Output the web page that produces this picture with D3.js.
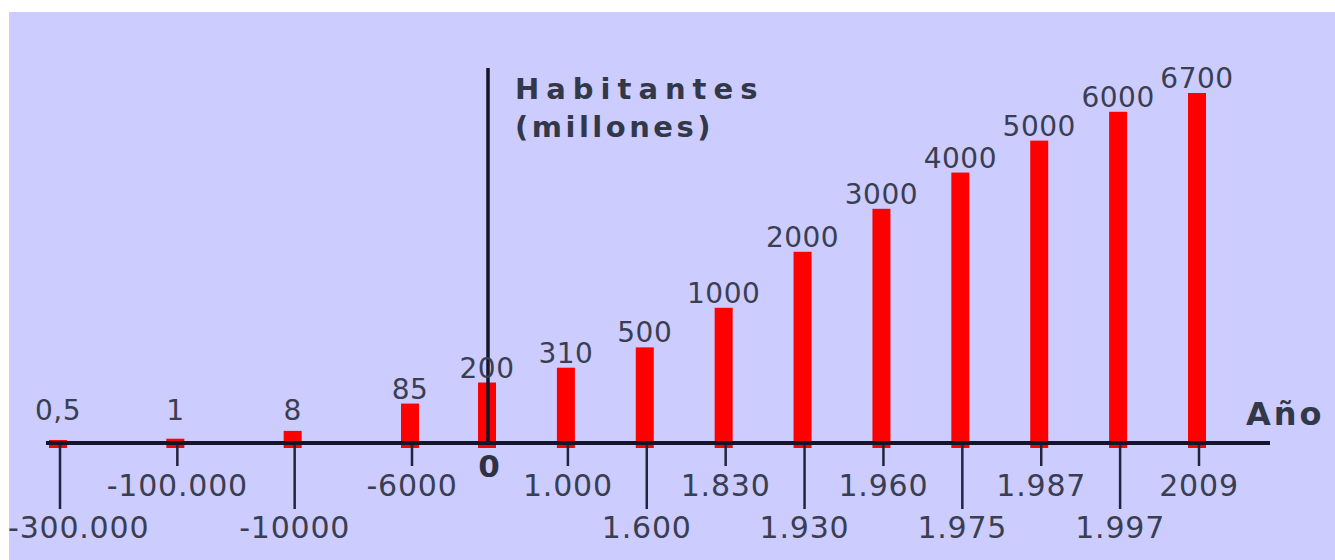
<!DOCTYPE html>
<html>
<head>
<meta charset="utf-8">
<script src="https://cdn.jsdelivr.net/npm/d3@7"></script>
<style>
  html, body { margin: 0; padding: 0; background: #ffffff; }
  svg { display: block; }
</style>
</head>
<body>
<svg id="chart" width="1335" height="560"></svg>
<script>
// ---- data ----
const yearLabels = ["-300.000", "-100.000", "-10000", "-6000", "0", "1.000", "1.600", "1.830", "1.930", "1.960", "1.975", "1.987", "1.997", "2009"];
const years = [-300000, -100000, -10000, -6000, 0, 1000, 1600, 1830, 1930, 1960, 1975, 1987, 1997, 2009];
const population = [0.5, 1, 8, 85, 200, 310, 500, 1000, 2000, 3000, 4000, 5000, 6000, 6700];
const populationLabels = ["0,5", "1", "8", "85", "200", "310", "500", "1000", "2000", "3000", "4000", "5000", "6000", "6700"];
const yTitle = ["Habitantes", "(millones)"];
const xTitle = "Año";

const data = years.map((y, i) => ({ year: y, label: yearLabels[i], value: population[i], valueLabel: populationLabels[i], i }));

// ---- layout ----
const W = 1335, H = 560;
const axisY = 443;
const zeroX = 487;
const svg = d3.select("#chart");
const font = "DejaVu Sans, Verdana, sans-serif";

svg.append("rect").attr("x", 9).attr("y", 12).attr("width", W - 9).attr("height", H - 12).attr("fill", "#ccccff");

// x: before year 0 and from year 0 onwards (the vertical axis sits at year 0)
const before = data.filter(d => d.year < 0).map(d => d.label);
const after = data.filter(d => d.year >= 0).map(d => d.label);
const xBefore = d3.scalePoint().domain(before).range([58, 410]);
const xAfter = d3.scalePoint().domain(after).range([zeroX, 1197]);
const x = d => (d.year < 0 ? xBefore(d.label) : xAfter(d.label));

const y = d3.scaleSqrt().domain([0, d3.max(population)]).range([axisY, axisY - 350]);

const textColor = "#3a3e52";
const lineColor = "#14142a";
const barW = 18;

// bars
svg.append("g").selectAll("rect").data(data).join("rect")
  .attr("x", d => x(d) - barW / 2)
  .attr("y", d => y(d.value))
  .attr("width", barW)
  .attr("height", d => axisY + 5 - y(d.value))
  .attr("fill", "#ff0000");

// x axis line
svg.append("line").attr("x1", 46).attr("x2", 1270).attr("y1", axisY).attr("y2", axisY)
  .attr("stroke", lineColor).attr("stroke-width", 4);

// y axis line
svg.append("line").attr("x1", zeroX + 1).attr("x2", zeroX + 1).attr("y1", 68).attr("y2", axisY)
  .attr("stroke", lineColor).attr("stroke-width", 3.5);

// ticks (alternating lengths)
const ticked = data.filter(d => d.year !== 0);
const isLong = d => d.i % 2 === 0;
svg.append("g").selectAll("line").data(ticked).join("line")
  .attr("x1", d => x(d) + 2).attr("x2", d => x(d) + 2)
  .attr("y1", axisY + 2)
  .attr("y2", d => isLong(d) ? 509 : 466)
  .attr("stroke", "#23233c").attr("stroke-width", 2.5);

// tick labels
const tl = svg.append("g").selectAll("text").data(ticked).join("text")
  .attr("x", d => x(d) + 2)
  .attr("y", d => isLong(d) ? 538 : 496)
  .attr("text-anchor", "middle")
  .attr("font-family", font)
  .attr("font-size", 30)
  .attr("letter-spacing", 0.8)
  .attr("fill", textColor)
  .text(d => d.label);
tl.each(function () {
  const w = this.getComputedTextLength();
  const cx = +this.getAttribute("x");
  if (cx - w / 2 < 8) this.setAttribute("x", 8 + w / 2);
});

// zero label
svg.append("text").attr("x", zeroX + 2).attr("y", 477).attr("text-anchor", "middle")
  .attr("font-family", font).attr("font-weight", "bold")
  .attr("font-size", 31).attr("fill", "#2e3242").text(data.find(d => d.year === 0).label);

// value labels
svg.append("g").selectAll("text").data(data).join("text")
  .attr("x", d => x(d))
  .attr("y", d => Math.min(y(d.value) - 5, 420))
  .attr("text-anchor", "middle")
  .attr("font-family", font)
  .attr("font-size", 28)
  .attr("letter-spacing", 0.5)
  .attr("fill", textColor)
  .text(d => d.valueLabel);

// y title
svg.append("text").attr("x", 515).attr("y", 99)
  .attr("font-family", font).attr("font-weight", "bold")
  .attr("font-size", 29).attr("letter-spacing", 7).attr("fill", "#323848").text(yTitle[0]);
svg.append("text").attr("x", 515).attr("y", 137)
  .attr("font-family", font).attr("font-weight", "bold")
  .attr("font-size", 29).attr("letter-spacing", 3.5).attr("fill", "#323848").text(yTitle[1]);

// x title
svg.append("text").attr("x", 1246).attr("y", 425)
  .attr("font-family", font).attr("font-weight", "bold")
  .attr("font-size", 32).attr("letter-spacing", 3).attr("fill", "#323848").text(xTitle);
</script>
</body>
</html>
